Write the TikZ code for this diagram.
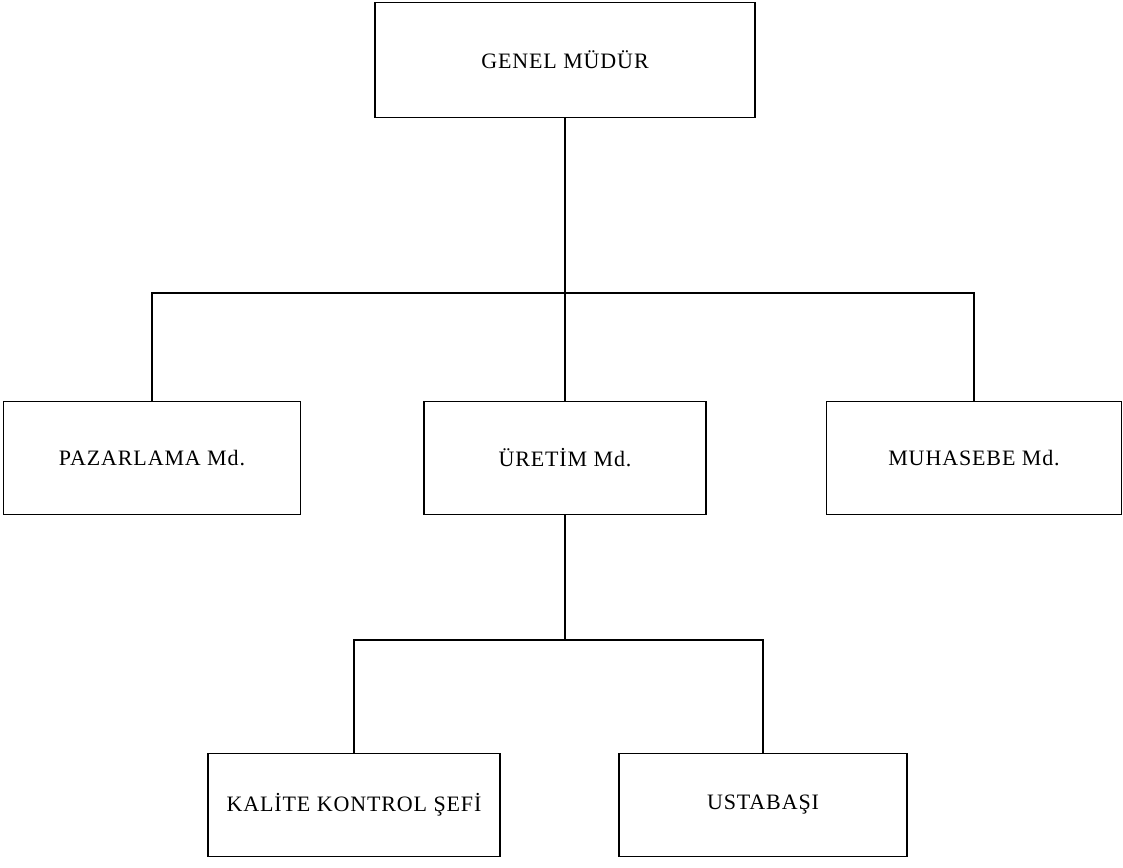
\documentclass[tikz,border=0pt]{standalone}
\usepackage{fontspec}
\setmainfont{Liberation Serif}[LetterSpace=4]
\begin{document}
\begin{tikzpicture}[x=1pt,y=-1pt,
  line width=1.3pt,
  unit/.style={draw=black, rectangle, inner sep=0pt, align=center,
    font=\fontsize{22}{26}\selectfont},
  link/.style={draw=black, line width=1.3pt}]
  % page frame
  \useasboundingbox (0,0) rectangle (1123,867);

  % top level
  \node[unit, minimum width=380pt, minimum height=115pt] (gm) at (565,60) {GENEL MÜDÜR};

  % departments
  \node[unit, minimum width=297pt, minimum height=113pt] (paz) at (152,458) {PAZARLAMA Md.};
  \node[unit, minimum width=282pt, minimum height=113pt] (ure) at (565,458) {ÜRETİM Md.};
  \node[unit, minimum width=295pt, minimum height=113pt] (muh) at (974,458) {MUHASEBE Md.};

  % production sub-units
  \node[unit, minimum width=292pt, minimum height=103pt] (kal) at (354,805) {KALİTE KONTROL ŞEFİ};
  \node[unit, minimum width=288pt, minimum height=103pt] (ust) at (763,805) {USTABAŞI};

  % branching points
  \coordinate (b1) at (565,293);
  \coordinate (b2) at (565,640);

  % connectors
  \draw[link] (gm.south) -- (ure.north);
  \draw[link] (paz.north) |- (b1) -| (muh.north);
  \draw[link] (ure.south) -- (b2);
  \draw[link] (kal.north) |- (b2) -| (ust.north);
\end{tikzpicture}
\end{document}
